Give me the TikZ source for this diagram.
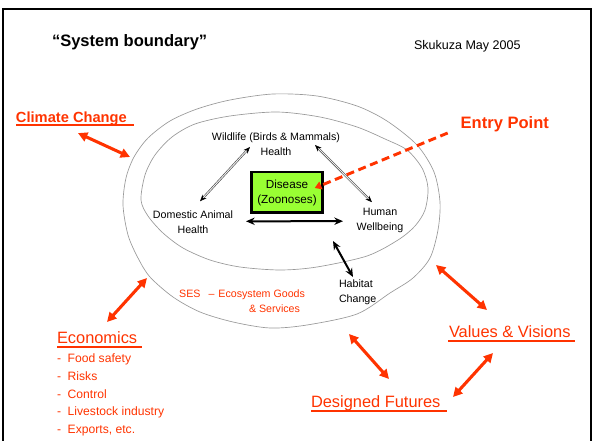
\documentclass[tikz,border=0pt]{standalone}
\usepackage{fontspec}
\setmainfont{Liberation Sans}
\usetikzlibrary{positioning, calc, arrows.meta}
\definecolor{sesred}{RGB}{255,51,0}
\definecolor{zoogreen}{RGB}{153,255,51}
\tikzset{
x=0.75pt, y=-0.75pt, % one unit is one pixel of the slide, counted from the top
every node/.style={inner sep=0pt, outer sep=0pt}, % nodes sit exactly where they are put
frame/.style={line width=1.9pt}, % the slide border
boundary/.style={draw=gray!80, line width=0.5pt}, % the two system boundaries
part/.style={font=\fontsize{8}{11.25}\selectfont, align=center}, % labels inside the system
disease/.style={draw, line width=1.9pt, fill=zoogreen, minimum width=53.6pt, minimum height=30.4pt,
  font=\fontsize{8.8}{11.25}\selectfont, align=center}, % the green box
driver/.style={text=sesred, font=\fontsize{12.3}{14}\selectfont}, % red labels outside the boundary
econitem/.style={text=sesred, font=\fontsize{9.1}{11}\selectfont}, % the list under Economics
uline/.style={draw=sesred, line width=1.6pt}, % underlines of the red labels
dblarrow/.style={draw=gray!55!black, double=gray!15, double distance=0.7pt, line width=0.45pt,
  arrows={Stealth[length=5pt,width=4pt,color=black]-Stealth[length=5pt,width=4pt,color=black]}},
blkarrow/.style={line width=1.5pt, arrows={Stealth[length=6.5pt,width=5.5pt]-Stealth[length=6.5pt,width=5.5pt]}},
redarrow/.style={draw=sesred, line width=2.3pt, arrows={Triangle[length=7pt,width=7pt]-Triangle[length=7pt,width=7pt]}},
entryline/.style={draw=sesred, line width=2.2pt, dash pattern=on 6pt off 3.5pt, arrows={-Triangle[length=5pt,width=6pt]}},
}

\begin{document}
\begin{tikzpicture}
\useasboundingbox (0,0) rectangle (597,441);
% slide border, open at the bottom
\draw[frame] (3,441) -- (3,9) -- (591,9) -- (591,441);

% heading
\node[anchor=base west, font=\bfseries\fontsize{12.4}{14}\selectfont] (title) at (52,46.7) {“System boundary”};
\node[anchor=base west, font=\fontsize{9.4}{11}\selectfont] (place) at (414,50) {Skukuza May 2005};

% outer boundary (SES) and inner boundary
\draw[boundary] plot[smooth cycle] coordinates {(123,205) (126,178) (134,157) (148,138) (170,121) (197,109)
  (230,100) (273,94) (317,96) (357,106) (387,121) (417,145) (434,172) (440,202) (438,230) (430,258)
  (413,278) (390,293) (357,314) (307,325) (270,328) (233,322) (200,312) (173,297) (150,277) (138,258) (128,235)};
\draw[boundary] plot[smooth cycle] coordinates {(141,200) (145,175) (155,155) (172,137) (195,124) (230,116)
  (277,112) (320,117) (357,127) (385,139) (407,150) (422,168) (428,188) (425,210) (415,226) (398,240)
  (367,256) (317,267) (280,270) (240,267) (210,260) (183,248) (163,233) (148,216)};

% the system
\node[disease] (dis) at (287,192.5) {Disease\\(Zoonoses)};
\node[part] (wild) at (276,144.5) {Wildlife (Birds \& Mammals)\\Health};
\node[part] (dom) at (193,222.3) {Domestic Animal\\Health};
\node[part] (hum) at (380,220.2) {Human\\Wellbeing};
\node[part, align=left, anchor=west] (hab) at (339,292.5) {Habitat\\Change};
\node[part, text=sesred, align=right, anchor=east] (ses) at (305,300.8) {SES\hspace{6pt}–\hspace{3pt}Ecosystem Goods\\\&~Services\hspace*{3.75pt}};

\draw[dblarrow] ($(wild.center)+(-26,2.5)$) -- ($(dom.center)+(7,-21)$);
\draw[dblarrow] ($(wild.center)+(39,0.5)$) -- ($(hum.center)+(-8,-18)$);
\draw[blkarrow] ($(dom.center)+(53,-1)$) -- ($(hum.center)+(-37,1)$);
\coordinate (hab-in) at (333,241);
\draw[blkarrow] ($(hab.north west)+(14,-3)$) -- (hab-in);

% entry point
\node[driver, font=\bfseries\fontsize{12.4}{14}\selectfont, anchor=base west] (entry) at (460.7,129) {Entry Point};
\draw[entryline] ($(entry.base west)+(-13,4)$) -- ($(dis.east)+(-8,-4.5)$);

% drivers outside the boundary
\node[driver, font=\bfseries\fontsize{11}{13}\selectfont, anchor=base west] (clim) at (16,122.6) {Climate Change};
\node[driver, anchor=base west] (econ) at (57,344) {Economics};
\node[driver, anchor=base west] (vals) at (449,338) {Values \& Visions};
\node[driver, anchor=base west] (fut) at (311,408) {Designed Futures};
\draw[uline] ($(clim.base west)+(0,2)$) -- ($(clim.base east)+(7,2)$);
\draw[uline] ($(econ.base west)+(0,3)$) -- ($(econ.base east)+(5,3)$);
\draw[uline] ($(vals.base west)+(-1,3)$) -- ($(vals.base east)+(4,3)$);
\draw[uline] ($(fut.base west)+(0,3)$) -- ($(fut.base east)+(7,3)$);

\node[econitem, anchor=base west] (econ1) at (57,362.5) {-\hspace{5pt}Food safety};
\node[econitem, anchor=base west] (econ2) at (57,380.5) {-\hspace{5pt}Risks};
\node[econitem, anchor=base west] (econ3) at (57,398.3) {-\hspace{5pt}Control};
\node[econitem, anchor=base west] (econ4) at (57,416) {-\hspace{5pt}Livestock industry};
\node[econitem, anchor=base west] (econ5) at (57,433.3) {-\hspace{5pt}Exports, etc.};

\coordinate (clim-in) at (130,157);
\coordinate (econ-in) at (147,278);
\coordinate (vals-in) at (436,265);
\coordinate (fut-in) at (349,334);
\draw[redarrow] ($(clim.base west)+(62,10.5)$) -- (clim-in);
\draw[redarrow] ($(econ.base west)+(50,-22)$) -- (econ-in);
\draw[redarrow] ($(vals.base west)+(38,-28)$) -- (vals-in);
\draw[redarrow] ($(fut.base west)+(78,-29)$) -- (fut-in);
\draw[redarrow] ($(fut.base west)+(142,-11)$) -- ($(vals.base west)+(44,15)$);
\end{tikzpicture}
\end{document}
